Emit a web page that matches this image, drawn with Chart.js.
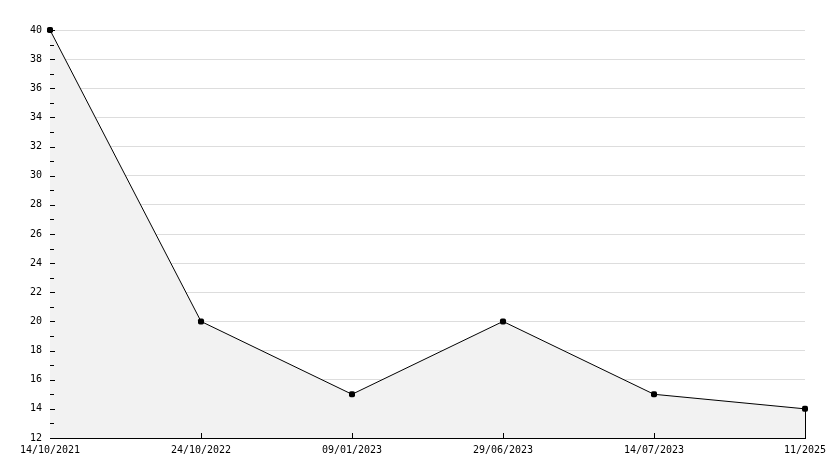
<!DOCTYPE html>
<html>
<head>
<meta charset="utf-8">
<script src="https://cdn.jsdelivr.net/npm/chart.js@4"></script>
<style>
  html, body { margin: 0; padding: 0; background: #fff; }
  #wrap { width: 834px; height: 468px; }
</style>
</head>
<body>
<div id="wrap"><canvas id="myChart" width="834" height="468"></canvas></div>
<script>
const dates = ["14/10/2021", "24/10/2022", "09/01/2023", "29/06/2023", "14/07/2023", "11/2025"];
const values = [40, 20, 15, 20, 15, 14];
const yMin = 12;
const yMax = 40;

// little inside tick marks + the closing edge of the area
const axisMarks = {
    id: "axisMarks",
    afterDatasetsDraw(chart) {
        const ctx = chart.ctx;
        const x = chart.scales.x;
        const y = chart.scales.y;
        const area = chart.chartArea;
        const left = Math.round(area.left);
        ctx.save();
        ctx.strokeStyle = "#000";
        ctx.lineWidth = 1;
        ctx.beginPath();
        for (let v = yMin; v <= yMax; v++) {
            const py = Math.round(y.getPixelForValue(v)) + 0.5;
            const len = v % 2 === 0 ? 5 : 4;
            ctx.moveTo(left, py);
            ctx.lineTo(left + len, py);
        }
        for (let i = 1; i < dates.length - 1; i++) {
            const px = Math.round(x.getPixelForValue(i)) + 0.5;
            ctx.moveTo(px, area.bottom);
            ctx.lineTo(px, area.bottom - 5);
        }
        const last = dates.length - 1;
        const lx = Math.round(x.getPixelForValue(last)) + 0.5;
        ctx.moveTo(lx, y.getPixelForValue(values[last]));
        ctx.lineTo(lx, area.bottom);
        ctx.stroke();
        ctx.restore();
    }
};

const ctx = document.getElementById("myChart");
const myChart = new Chart(ctx, {
    type: "line",
    data: {
        labels: dates,
        datasets: [
            {
                data: values,
                borderColor: "#000",
                borderWidth: 1,
                backgroundColor: "#f2f2f2",
                fill: "start",
                tension: 0,
                clip: false,
                pointStyle: "rectRounded",
                pointRadius: 3.5,
                pointBackgroundColor: "#000",
                pointBorderColor: "#000",
                pointBorderWidth: 0,
            },
        ],
    },
    options: {
        responsive: false,
        animation: false,
        devicePixelRatio: 1,
        layout: {
            padding: { top: 30, right: 29, left: 0, bottom: 0 },
        },
        plugins: {
            legend: { display: false },
            tooltip: { enabled: false },
        },
        scales: {
            x: {
                offset: false,
                grid: { color: "rgba(0,0,0,0)", drawTicks: false },
                border: { display: true, color: "#000", width: 1 },
                ticks: {
                    autoSkip: false,
                    maxRotation: 0,
                    padding: 6,
                    color: "#000",
                    font: { family: "DejaVu Sans Mono", size: 10 },
                },
                afterFit(scale) { scale.height = 30; },
            },
            y: {
                min: yMin,
                max: yMax,
                ticks: {
                    stepSize: 1,
                    autoSkip: false,
                    padding: 8,
                    color: "#000",
                    font: { family: "DejaVu Sans Mono", size: 10 },
                    callback: (v) => (v % 2 === 0 ? v : ""),
                },
                grid: {
                    drawTicks: false,
                    color: (c) => (c.tick && c.tick.value % 2 === 0 && c.tick.value !== yMin ? "#dddddd" : "rgba(0,0,0,0)"),
                },
                border: { display: true, color: "#000", width: 1 },
                afterFit(scale) { scale.width = 50; },
            },
        },
    },
    plugins: [axisMarks],
});
</script>
</body>
</html>
